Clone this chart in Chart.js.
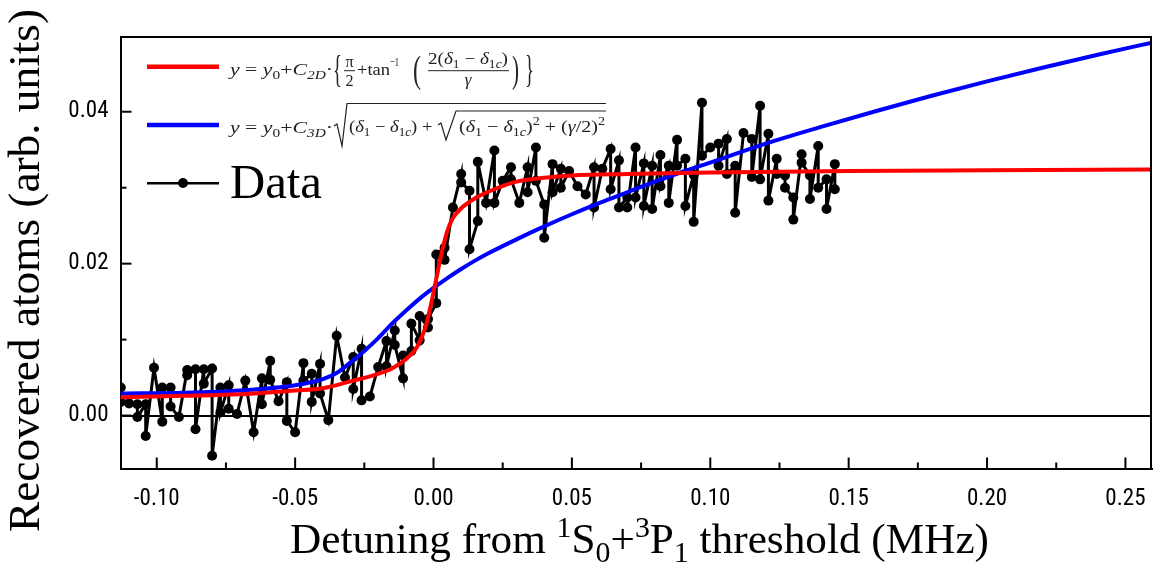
<!DOCTYPE html>
<html><head><meta charset="utf-8">
<script src="https://cdn.jsdelivr.net/npm/chart.js@4.4.1/dist/chart.umd.min.js"></script>
<style>html,body{margin:0;padding:0;background:#fff;}</style>
</head><body>
<canvas id="c" width="1153" height="563"></canvas>
<script>
// ---- data ----
const dataX = [
 -0.113,-0.113,-0.110,-0.107,-0.107,-0.104,-0.104,-0.101,-0.098,-0.098,-0.095,-0.095,-0.092,
 -0.089,-0.089,-0.086,-0.086,-0.083,-0.083,-0.080,-0.080,-0.077,-0.077,-0.074,-0.074,-0.071,
 -0.068,-0.065,-0.062,-0.062,-0.059,-0.059,-0.056,-0.053,-0.053,-0.050,-0.047,-0.047,-0.044,
 -0.044,-0.041,-0.041,-0.038,-0.035,-0.032,-0.029,-0.029,-0.026,-0.026,-0.023,-0.020,-0.017,
 -0.017,-0.014,-0.014,-0.011,-0.011,-0.008,-0.008,-0.005,-0.005,-0.002,-0.002,0.001,0.001,
 0.004,0.004,0.007,0.010,0.010,0.013,0.013,0.016,0.016,0.019,0.022,0.022,0.025,0.028,0.028,
 0.031,0.034,0.034,0.037,0.037,0.040,0.040,0.043,0.043,0.046,0.046,0.049,0.052,0.055,0.058,
 0.058,0.061,0.064,0.064,0.067,0.067,0.070,0.070,0.073,0.073,0.076,0.076,0.079,0.079,0.082,
 0.082,0.085,0.085,0.088,0.088,0.091,0.091,0.094,0.094,0.097,0.097,0.100,0.103,0.103,0.106,
 0.106,0.109,0.109,0.112,0.115,0.115,0.118,0.118,0.121,0.121,0.124,0.124,0.127,0.127,0.130,
 0.130,0.133,0.133,0.136,0.136,0.139,0.139,0.142,0.142,0.145,0.145
];
const dataY = [
 0.0037,0.0018,0.0016,0.0015,-0.0002,0.0015,-0.0027,0.0063,-0.0008,0.0037,0.0037,0.0012,-0.0002,
 0.0060,0.0053,0.0061,-0.0018,0.0061,0.0042,0.0062,-0.0053,0.0037,0.0004,0.0040,0.0009,0.0002,
 0.0046,-0.0022,0.0049,0.0015,0.0072,0.0047,0.0019,0.0044,-0.0007,-0.0022,0.0069,0.0046,0.0055,
 0.0018,0.0068,0.0029,-0.0006,0.0105,0.0050,0.0077,0.0035,0.0088,0.0020,0.0025,0.0064,0.0098,
 0.0065,0.0112,0.0093,0.0049,0.0079,0.0085,0.0121,0.0099,0.0131,0.0116,0.0127,0.0148,0.0212,
 0.0221,0.0205,0.0274,0.0318,0.0307,0.0296,0.0219,0.0256,0.0334,0.0280,0.0349,0.0280,0.0309,0.0327,0.0311,
 0.0280,0.0327,0.0294,0.0353,0.0309,0.0278,0.0234,0.0331,0.0294,0.0325,0.0300,0.0322,0.0302,0.0291,0.0327,
 0.0274,0.0325,0.0351,0.0298,0.0336,0.0274,0.0287,0.0274,0.0353,0.0287,0.0332,0.0276,0.0329,0.0272,0.0343,
 0.0302,0.0329,0.0280,0.0363,0.0329,0.0338,0.0276,0.0317,0.0255,0.0412,0.0342,0.0353,0.0358,0.0329,0.0364,
 0.0318,0.0329,0.0267,0.0372,0.0364,0.0314,0.0408,0.0311,0.0371,0.0283,0.0338,0.0318,0.0316,0.0300,0.0287,
 0.0258,0.0344,0.0333,0.0316,0.0285,0.0355,0.0300,0.0311,0.0272,0.0331,0.0298
];
// 2D fit curve (red)
const redX = [-0.1131,-0.09,-0.07,-0.05,-0.04,-0.03,-0.02,-0.015,-0.01,-0.006,-0.003,-0.001,0.001,0.003,0.005,0.007,0.010,0.015,0.020,0.030,0.040,0.050,0.070,0.100,0.150,0.200,0.2596];
const redY = [0.0024,0.0026,0.0028,0.0033,0.0036,0.0045,0.0055,0.0062,0.0074,0.0090,0.0115,0.0145,0.0180,0.0215,0.0243,0.0260,0.0273,0.0286,0.0295,0.0308,0.0313,0.0316,0.0318,0.0320,0.0322,0.0323,0.0324];
// 3D fit curve (blue)
const blueX = [-0.1131,-0.09,-0.07,-0.05,-0.04,-0.035,-0.03,-0.025,-0.02,-0.015,-0.01,-0.005,0.0,0.005,0.01,0.015,0.02,0.03,0.04,0.05,0.06,0.07,0.08,0.09,0.10,0.12,0.14,0.16,0.18,0.20,0.22,0.24,0.2596];
const blueY = [0.0029,0.0030,0.0033,0.0040,0.0048,0.0056,0.0070,0.0085,0.0102,0.0121,0.0138,0.0154,0.0168,0.0181,0.0193,0.0204,0.0214,0.0232,0.0249,0.0265,0.0280,0.0294,0.0308,0.0321,0.0333,0.0358,0.0380,0.0401,0.0421,0.0440,0.0458,0.0475,0.0491];
const xTickValues = [-0.10,-0.05,0.00,0.05,0.10,0.15,0.20,0.25];
const xMinorTicks = [-0.075,-0.025,0.025,0.075,0.125,0.175,0.225];
const yTickValues = [0.00,0.02,0.04];
const yMinorTicks = [0.01,0.03];
const yTitle = 'Recovered atoms (arb. units)';
const legendData = 'Data';

const TICKFONT = '"Roboto Condensed","DejaVu Sans Condensed",sans-serif';
const SERIF = '"Liberation Serif","Times New Roman",serif';
const INK = '#222';

function fontOf(s){return (s.it?'italic ':'')+s.size+'px '+SERIF;}
function S(t,o){o=o||{};return {t:t,size:o.size||17,it:!!o.it,dy:o.dy||0};}
function runWidth(ctx,segs){let w=0;for(const s of segs){ctx.font=fontOf(s);w+=ctx.measureText(s.t).width;}return w;}
function drawRun(ctx,segs,x,y,targetW){
  const w=runWidth(ctx,segs);const k=targetW?targetW/w:1;
  ctx.save();ctx.translate(x,y);ctx.scale(k,1);let cx=0;
  for(const s of segs){ctx.font=fontOf(s);ctx.fillText(s.t,cx,s.dy);cx+=ctx.measureText(s.t).width;}
  ctx.restore();return x+w*k;
}
function centerText(ctx,seg,cx,y){ctx.font=fontOf(seg);const w=ctx.measureText(seg.t).width;ctx.fillText(seg.t,cx-w/2,y);}
function hline(ctx,x0,x1,y,w,c){ctx.beginPath();ctx.moveTo(x0,y);ctx.lineTo(x1,y);ctx.lineWidth=w;ctx.strokeStyle=c;ctx.stroke();}

const decorPlugin = {
  id:'decor',
  afterDraw(chart){
    const ctx=chart.ctx, a=chart.chartArea, xs=chart.scales.x, ys=chart.scales.y;
    ctx.save();
    ctx.lineCap='butt';
    hline(ctx,a.left,a.right,a.top,2,'#000');
    ctx.beginPath();ctx.moveTo(a.right-1,a.top);ctx.lineTo(a.right-1,a.bottom);ctx.lineWidth=2;ctx.strokeStyle='#000';ctx.stroke();
    ctx.lineWidth=2;ctx.strokeStyle='#000';
    const tx=(v,len)=>{const p=xs.getPixelForValue(v);ctx.beginPath();ctx.moveTo(p,a.bottom);ctx.lineTo(p,a.bottom-len);ctx.stroke();};
    const ty=(v,len)=>{const p=ys.getPixelForValue(v);ctx.beginPath();ctx.moveTo(a.left,p);ctx.lineTo(a.left+len,p);ctx.stroke();};
    xTickValues.forEach(v=>tx(v,11));xMinorTicks.forEach(v=>tx(v,6));
    yTickValues.forEach(v=>ty(v,11));yMinorTicks.forEach(v=>ty(v,6));
    ctx.fillStyle='#000';ctx.textBaseline='alphabetic';ctx.textAlign='left';
    const big=42, sm=29;
    drawRun(ctx,[S('Detuning from ',{size:big}),S('1',{size:sm,dy:-16}),S('S',{size:big}),S('0',{size:sm,dy:9}),
      S('+',{size:big}),S('3',{size:sm,dy:-16}),S('P',{size:big}),S('1',{size:sm,dy:9}),S(' threshold (MHz)',{size:big})],290,553,699);
    ctx.save();ctx.translate(39,532);ctx.rotate(-Math.PI/2);
    drawRun(ctx,[S(yTitle,{size:44})],0,0,523);
    ctx.restore();
    ctx.lineCap='butt';
    hline(ctx,147,219,66.7,4.5,'#ff0000');
    hline(ctx,147,219,125,4.5,'#0000ff');
    hline(ctx,147,219,183.3,2.5,'#000');
    ctx.beginPath();ctx.arc(183,183,5,0,Math.PI*2);ctx.fillStyle='#000';ctx.fill();
    ctx.fillStyle='#000';
    drawRun(ctx,[S(legendData,{size:48})],230,198,92);
    ctx.fillStyle=INK;
    const sub={size:12,dy:4}, subi={size:12,dy:4,it:true};
    drawRun(ctx,[S('y',{it:true}),S(' = '),S('y',{it:true}),S('0',sub),S('+'),S('C',{it:true}),S('2D',subi),S('·')],230,75,103);
    drawRun(ctx,[S('{',{size:38})],333,82,9);
    centerText(ctx,S('π',{size:16}),349.5,67);hline(ctx,344,355,70.7,1,INK);centerText(ctx,S('2',{size:16}),349.5,86);
    drawRun(ctx,[S('+tan')],357,75,33);
    drawRun(ctx,[S('−1',{size:13})],390,66,9);
    drawRun(ctx,[S('(',{size:38})],413,82,8);
    drawRun(ctx,[S('2('),S('δ',{it:true}),S('1',sub),S(' − '),S('δ',{it:true}),S('1',sub),S('c',subi),S(')')],428,64,80);
    hline(ctx,428,509,70.7,1,INK);
    centerText(ctx,S('γ',{it:true}),468,85);
    drawRun(ctx,[S(')',{size:38})],512,82,7);
    drawRun(ctx,[S('}',{size:38})],525,82,9);
    drawRun(ctx,[S('y',{it:true}),S(' = '),S('y',{it:true}),S('0',sub),S('+'),S('C',{it:true}),S('3D',subi),S('·')],230,133,103);
    ctx.strokeStyle=INK;ctx.lineWidth=1.2;ctx.lineJoin='miter';
    ctx.beginPath();ctx.moveTo(334,126);ctx.lineTo(337,124);ctx.lineTo(342,146);ctx.lineTo(347,103.5);ctx.lineTo(606,103.5);ctx.stroke();
    drawRun(ctx,[S('('),S('δ',{it:true}),S('1',sub),S(' − '),S('δ',{it:true}),S('1',sub),S('c',subi),S(') + ')],349,132,88);
    ctx.beginPath();ctx.moveTo(438,125);ctx.lineTo(441,123);ctx.lineTo(446,140);ctx.lineTo(456,111);ctx.lineTo(606,111);ctx.stroke();
    drawRun(ctx,[S('('),S('δ',{it:true}),S('1',sub),S(' − '),S('δ',{it:true}),S('1',sub),S('c',subi),S(')'),S('2',{size:12,dy:-7}),
      S(' + ('),S('γ',{it:true}),S('/2)'),S('2',{size:12,dy:-7})],459,132,146);
    ctx.restore();
  }
};

new Chart(document.getElementById('c').getContext('2d'),{
  type:'line',
  data:{datasets:[
    {label:'2D fit',data:redX.map((x,i)=>({x:x,y:redY[i]})),borderColor:'#ff0000',borderWidth:4,pointRadius:0,cubicInterpolationMode:'monotone',order:0},
    {label:'3D fit',data:blueX.map((x,i)=>({x:x,y:blueY[i]})),borderColor:'#0000ff',borderWidth:4,pointRadius:0,cubicInterpolationMode:'monotone',order:1},
    {label:legendData,data:dataX.map((x,i)=>({x:x,y:dataY[i]})),borderColor:'#000',borderWidth:3,pointRadius:5,
     pointBackgroundColor:'#000',pointBorderWidth:0,pointBorderColor:'#000',tension:0,order:2}
  ]},
  options:{
    responsive:false,animation:false,devicePixelRatio:1,
    layout:{autoPadding:false,padding:{top:37,right:1,left:0,bottom:0}},
    plugins:{legend:{display:false},tooltip:{enabled:false}},
    scales:{
      x:{type:'linear',min:-0.1131,max:0.2596,
        afterFit:s=>{s.height=94.5;s.paddingLeft=0;s.paddingRight=0;},
        afterBuildTicks:s=>{s.ticks=xTickValues.map(v=>({value:v}));},
        grid:{display:false,drawTicks:false},
        border:{display:true,color:'#000',width:2},
        ticks:{padding:17,color:'#000',font:{family:TICKFONT,size:23},callback:v=>Number(v).toFixed(2),maxRotation:0,autoSkip:false}},
      y:{type:'linear',min:-0.00697,max:0.04984,
        afterFit:s=>{s.width=120.5;s.paddingTop=0;s.paddingBottom=0;},
        afterBuildTicks:s=>{s.ticks=yTickValues.map(v=>({value:v}));},
        grid:{drawTicks:false,lineWidth:2,color:c=>(c.tick&&c.tick.value===0)?'#000':'rgba(0,0,0,0)'},
        border:{display:true,color:'#000',width:2},
        ticks:{padding:12,color:'#000',font:{family:TICKFONT,size:23},callback:v=>Number(v).toFixed(2)}}
    }
  },
  plugins:[decorPlugin]
});
</script>
</body></html>
